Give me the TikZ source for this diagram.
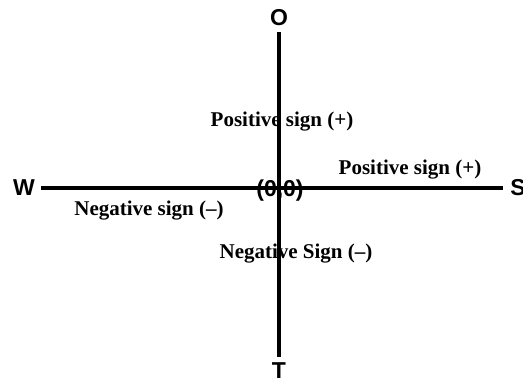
\documentclass[tikz,border=0pt]{standalone}
\usepackage{fontspec}
\setmainfont{Liberation Serif}
\setsansfont{Liberation Sans}
\usetikzlibrary{positioning}

\begin{document}
\begin{tikzpicture}[x=1pt, y=-1pt]
    \tikzset{
        dirstyle/.style={font=\fontsize{23}{25}\selectfont\sffamily\bfseries, inner sep=6pt},
        signstyle/.style={font=\fontsize{21}{23}\selectfont\bfseries, inner sep=0pt},
        axisstyle/.style={line width=3.2pt, black}
    }
    \useasboundingbox (0,0) rectangle (523,387);

    \node[dirstyle] (north) at (279,18) {O};
    \node[dirstyle] (south) at (279,371) {T};
    \node[dirstyle] (west) at (24,188) {W};
    \node[dirstyle, inner sep=7pt] (east) at (518,188) {S};

    \node[signstyle] (posN) at (282,122) {Positive sign (+)};
    \node[signstyle] (posE) at (410,170) {Positive sign (+)};
    \node[signstyle] (negW) at (149,211) {Negative sign (--)};
    \node[signstyle] (negS) at (296,254) {Negative Sign (--)};

    \draw[axisstyle] (north) -- (south);
    \draw[axisstyle] (west) -- (east);

    \node[font=\fontsize{23}{25}\selectfont\sffamily\bfseries, inner sep=0pt] (origin) at (280,191) {(0,0)};
\end{tikzpicture}
\end{document}
